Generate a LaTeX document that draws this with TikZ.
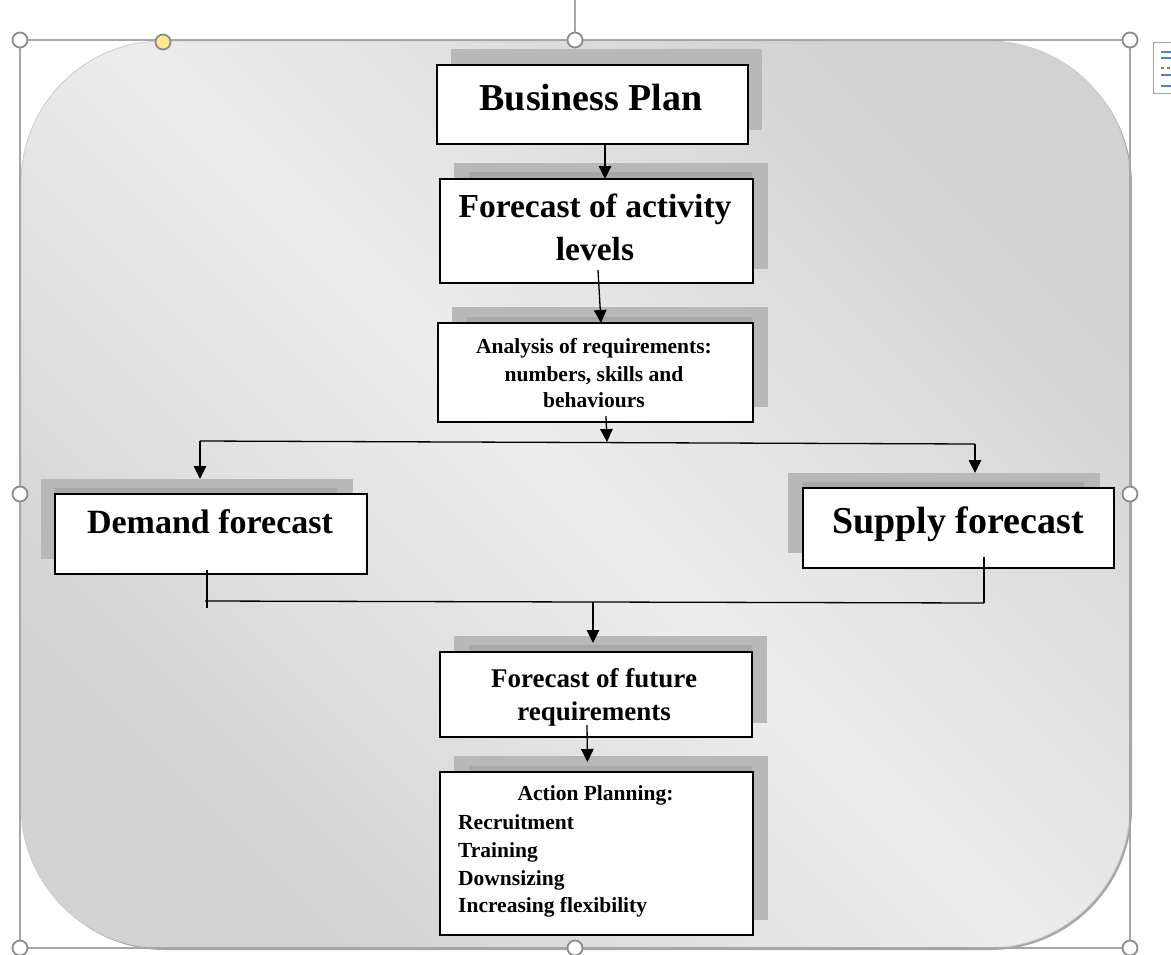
\documentclass[tikz,border=0pt]{standalone}
\usepackage{fontspec}
\setmainfont{Liberation Serif}
\usetikzlibrary{arrows.meta}
\definecolor{bgA}{RGB}{237,237,237}
\definecolor{bgB}{RGB}{210,210,210}
\definecolor{shA}{RGB}{184,184,184}
\definecolor{shB}{RGB}{168,168,168}
\definecolor{selgray}{RGB}{166,166,166}
\definecolor{hdl}{RGB}{140,140,140}
\definecolor{yel}{RGB}{255,232,140}
\definecolor{iconblue}{RGB}{80,130,200}
\newcommand\myfs[1]{\fontsize{#1}{#1}\selectfont}
\newcommand\rectnode[6]{\node[#1, minimum width={(#5)-(#3)}, minimum height={(#6)-(#4)}] (#2) at ({((#3)+(#5))/2},{((#4)+(#6))/2}) {};}
\begin{document}
\begin{tikzpicture}[x=1pt,y=-1pt,
 box/.style={rectangle, draw=black, fill=white, line width=1.3pt, inner sep=0pt, outer sep=0pt},
 shadeA/.style={rectangle, fill=shA, draw=none, inner sep=0pt, outer sep=0pt},
 shadeB/.style={rectangle, fill=shB, draw=none, inner sep=0pt, outer sep=0pt},
 lbl/.style={inner sep=0pt, anchor=base},
 arr/.style={line width=1.3pt, -{Triangle[width=12.5pt,length=13pt]}},
 conn/.style={line width=1.3pt},
 handle/.style={circle, draw=hdl, fill=white, line width=1.8pt, minimum size=15pt, inner sep=0pt},
]
\useasboundingbox (0,0) rectangle (1171,954);
% background rounded shape
\fill[gray!70, rounded corners=142pt] (23,43) rectangle (1132,950);
\shade[top color=bgB, bottom color=bgB, middle color=bgA, shading angle=-45, draw=gray!40, line width=0.8pt, rounded corners=142pt] (21,41) rectangle (1130,948);

% shadows
\rectnode{shadeA}{bps}{451}{49}{762}{130}
\rectnode{shadeA}{fas}{454}{163}{768}{269}
\rectnode{shadeB}{fas2}{469}{172}{752}{283}
\rectnode{shadeA}{ans}{452}{307}{768}{407}
\rectnode{shadeB}{ans2}{467}{317}{752}{407}
\rectnode{shadeA}{dfs}{41}{479}{353}{559}
\rectnode{shadeB}{dfs2}{55}{488}{337}{559}
\rectnode{shadeA}{sfs}{788}{473}{1100}{553}
\rectnode{shadeB}{sfs2}{803}{482}{1084}{553}
\rectnode{shadeA}{ffs}{454}{636}{767}{723}
\rectnode{shadeB}{ffs2}{469}{645}{752}{723}
\rectnode{shadeA}{aps}{454}{756}{768}{920}
\rectnode{shadeB}{aps2}{469}{766}{752}{920}

% white boxes
\rectnode{box}{bp}{437}{65}{748}{144}
\rectnode{box}{fa}{440}{179}{753}{283}
\rectnode{box}{an}{438}{323}{753}{422}
\rectnode{box}{df}{55}{494}{367}{574}
\rectnode{box}{sf}{803}{488}{1114}{568}
\rectnode{box}{ff}{440}{652}{752}{737}
\rectnode{box}{ap}{440}{772}{753}{935}

% texts
\node[lbl, font=\bfseries\myfs{38}] (tbp) at (591,110) {Business Plan};
\node[lbl, font=\bfseries\myfs{33.5}] (tfa1) at (595,217) {Forecast of activity};
\node[lbl, font=\bfseries\myfs{33.5}] (tfa2) at (595,260) {levels};
\node[lbl, font=\bfseries\myfs{21.5}] (tan1) at (594,353) {Analysis of requirements:};
\node[lbl, font=\bfseries\myfs{21.5}] (tan2) at (594,381) {numbers, skills and};
\node[lbl, font=\bfseries\myfs{21.5}] (tan3) at (594,407) {behaviours};
\node[lbl, font=\bfseries\myfs{34}] (tdf) at (210,533) {Demand forecast};
\node[lbl, font=\bfseries\myfs{38}] (tsf) at (958,533) {Supply forecast};
\node[lbl, font=\bfseries\myfs{27}] (tff1) at (594,687) {Forecast of future};
\node[lbl, font=\bfseries\myfs{27}] (tff2) at (594,720) {requirements};
\node[lbl, font=\bfseries\myfs{21.5}] (tap0) at (595.5,800) {Action Planning:};
\node[lbl, anchor=base west, font=\bfseries\myfs{21.5}] (tap1) at (458,829) {Recruitment};
\node[lbl, anchor=base west, font=\bfseries\myfs{21.5}] (tap2) at (458,857) {Training};
\node[lbl, anchor=base west, font=\bfseries\myfs{21.5}] (tap3) at (458,885) {Downsizing};
\node[lbl, anchor=base west, font=\bfseries\myfs{21.5}] (tap4) at (458,912) {Increasing flexibility};

% connectors
\draw[arr] ([xshift=12.5pt]bp.south) -- ([xshift=12.5pt]bp.south |- fa.north);
\draw[arr] ([xshift=1.5pt,yshift=13pt]fa.south) -- ([xshift=5.5pt]an.north);
\coordinate (sp) at (607,442);
\coordinate (bl) at (200,441);
\coordinate (br) at (975,444);
\draw[arr] ([xshift=10.5pt,yshift=6pt]an.south) -- (sp);
\draw[conn] (bl) -- (br);
\draw[arr] (bl) -- (bl |- dfs.north);
\draw[arr] (br) -- (br |- sfs.north);

\coordinate (dt) at (207,608);
\coordinate (ml) at (205,601);
\coordinate (mr) at (984,603);
\coordinate (mj) at (593,602);
\coordinate (fft) at ([yshift=9pt]ff.north);
\draw[conn] ([xshift=-4pt,yshift=4pt]df.south) -- (dt);
\draw[conn] ([xshift=25.5pt,yshift=11pt]sf.south) -- (mr);
\draw[conn] (ml) -- (mr);
\draw[arr] (mj) -- (mj |- fft);
\draw[arr] ([xshift=-9pt,yshift=12pt]ff.south) -- ([xshift=-9pt,yshift=10pt]ap.north);

% selection frame
\draw[selgray, line width=1.5pt] (20,40) rectangle (1130,948);
\draw[selgray, line width=1.5pt] (575,0) -- (575,32);
\node[handle] (h1) at (20,40) {};
\node[handle] (h2) at (575,40) {};
\node[handle] (h3) at (1130,40) {};
\node[handle] (h4) at (20,494) {};
\node[handle] (h5) at (1130,494) {};
\node[handle] (h6) at (20,948) {};
\node[handle] (h7) at (575,948) {};
\node[handle] (h8) at (1130,948) {};
\node[handle, fill=yel] (hy) at (163,42) {};

% layout options icon
\draw[selgray, fill=white, line width=1pt] (1153,42) rectangle (1176,93);
\foreach \yy in {52,58,75,86}{\draw[iconblue, line width=1.5pt] (1161,\yy) -- (1171,\yy);}
\draw[iconblue, line width=1.5pt, dashed] (1161,68) -- (1171,68);
\end{tikzpicture}
\end{document}
